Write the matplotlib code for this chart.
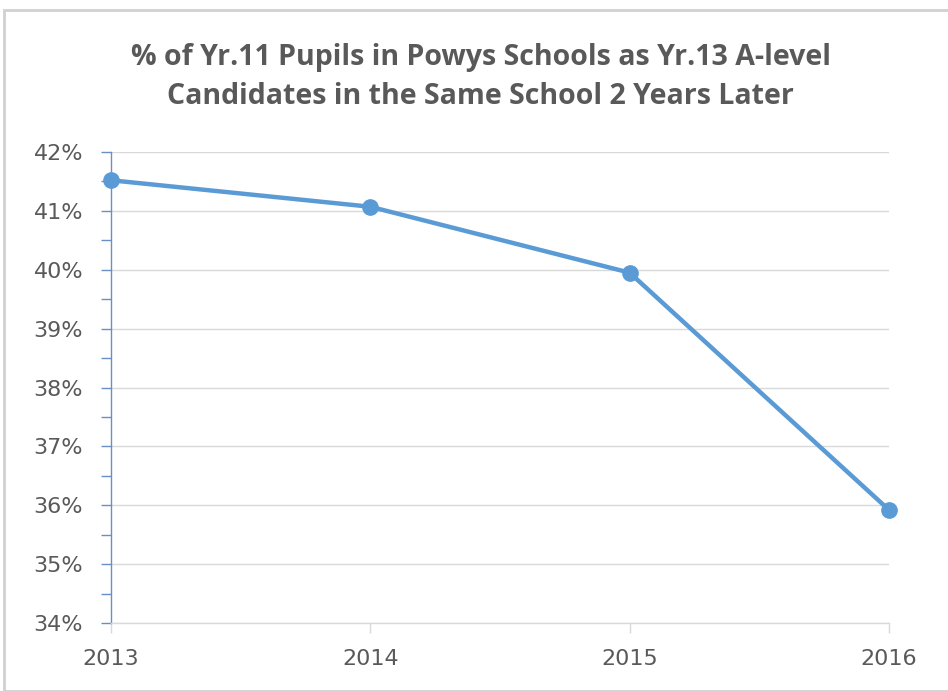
import numpy as np
import matplotlib.pyplot as plt
from matplotlib.patches import Rectangle
from matplotlib.ticker import MultipleLocator, FuncFormatter

years = [2013, 2014, 2015, 2016]
pct = [41.52, 41.07, 39.95, 35.92]
title = "% of Yr.11 Pupils in Powys Schools as Yr.13 A-level\nCandidates in the Same School 2 Years Later"

text_col = "#595959"
line_col = "#5b9bd5"

fig = plt.figure(figsize=(9.48, 6.91), dpi=100)
fig.patch.set_facecolor("white")
# chart border
fig.patches.append(Rectangle((4 / 948, 0), 1.2, (691 - 10) / 691, transform=fig.transFigure,
                             fill=False, edgecolor="#d0d0d0", linewidth=2))

ax = fig.add_axes([111 / 948, 1 - 623 / 691, (889 - 111) / 948, (623 - 152) / 691])

ax.plot(years, pct, color=line_col, linewidth=3.2, marker="o", markersize=11,
        solid_capstyle="round", clip_on=False, zorder=3)

ax.set_xlim(2013, 2016)
ax.set_ylim(34, 42)
ax.set_xticks(years)
ax.set_xticklabels([str(y) for y in years])
ax.yaxis.set_major_locator(MultipleLocator(1))
ax.yaxis.set_minor_locator(MultipleLocator(0.5))
ax.yaxis.set_major_formatter(FuncFormatter(lambda v, p: f"{v:.0f}%"))

ax.grid(axis="y", which="major", color="#d9d9d9", linewidth=1)
ax.set_axisbelow(True)

for s in ["top", "right"]:
    ax.spines[s].set_visible(False)
ax.spines["left"].set_color("#6a8fc4")
ax.spines["left"].set_linewidth(1)
ax.spines["bottom"].set_color("#d9d9d9")
ax.spines["bottom"].set_linewidth(1)

ax.tick_params(axis="y", which="both", length=7, color="#6a8fc4", width=1,
               labelsize=16, labelcolor=text_col, pad=13)
ax.tick_params(axis="x", length=7, color="#d9d9d9", width=1,
               labelsize=16, labelcolor=text_col, pad=12)

fig.text(0.507, 1 - 77 / 691, title, ha="center", va="center", fontsize=20.5,
         fontweight="bold", color=text_col, linespacing=1.45, family="Open Sans")

fig.savefig("out.png", dpi=100)
